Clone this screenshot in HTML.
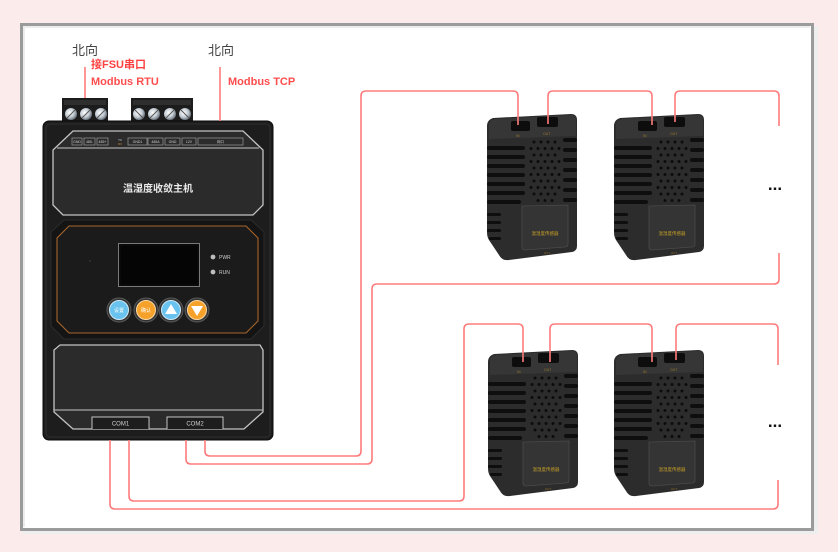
<!DOCTYPE html>
<html><head><meta charset="utf-8"><style>
html,body{margin:0;padding:0;background:#fcebeb;}
svg{display:block;}
text{font-family:"Liberation Sans","Noto Sans CJK SC",sans-serif;}
</style></head><body>
<svg width="838" height="552" viewBox="0 0 838 552" xmlns="http://www.w3.org/2000/svg">
<defs>
 <radialGradient id="screw" cx="40%" cy="40%" r="60%">
  <stop offset="0" stop-color="#ffffff"/><stop offset="0.6" stop-color="#c4ccd4"/><stop offset="1" stop-color="#6d7680"/>
 </radialGradient>
 <g id="sensor">
  <path d="M0,14 Q0,8 6,6 L84,2 Q90,2 90,8 L90,134 Q90,139 85,140 L22,148 Q15,149 12,143 L2,128 Q0,125 0,120 Z" fill="#2c2c2c"/>
  <path d="M2,12 Q3,8 8,7 L84,3 Q89,3 89,8 L89,24 L2,27 Z" fill="#363636"/>
  <rect x="24" y="9" width="19" height="10" rx="2" fill="#0d0d0d"/>
  <rect x="50" y="5" width="21" height="10" rx="2" fill="#0d0d0d"/>
  <text x="29" y="25" font-size="3.5" fill="#9a7a2a">IN</text>
  <text x="56" y="23" font-size="3.5" fill="#9a7a2a">OUT</text>
  <g fill="#0e0e0e">
   <rect x="0" y="34" width="38" height="4" rx="2"/>
   <rect x="0" y="43" width="38" height="4" rx="2"/>
   <rect x="0" y="52" width="38" height="4" rx="2"/>
   <rect x="0" y="61" width="38" height="4" rx="2"/>
   <rect x="0" y="70" width="38" height="4" rx="2"/>
   <rect x="0" y="79" width="38" height="4" rx="2"/>
   <rect x="0" y="88" width="34" height="4" rx="2"/>
   <rect x="0" y="101" width="14" height="3" rx="1.5"/>
   <rect x="0" y="109" width="14" height="3" rx="1.5"/>
   <rect x="0" y="117" width="14" height="3" rx="1.5"/>
   <rect x="2" y="125" width="12" height="3" rx="1.5"/>
   <rect x="76" y="26" width="14" height="4" rx="2"/>
   <rect x="76" y="36" width="14" height="4" rx="2"/>
   <rect x="76" y="46" width="14" height="4" rx="2"/>
   <rect x="76" y="56" width="14" height="4" rx="2"/>
   <rect x="76" y="66" width="14" height="4" rx="2"/>
   <rect x="76" y="76" width="14" height="4" rx="2"/>
   <rect x="76" y="86" width="14" height="4" rx="2"/>
  </g>
  <g fill="#0c0c0c">
   <circle cx="47" cy="30" r="1.5"/><circle cx="54" cy="30" r="1.5"/><circle cx="61" cy="30" r="1.5"/><circle cx="68" cy="30" r="1.5"/>
   <circle cx="44" cy="36.5" r="1.5"/><circle cx="51" cy="36.5" r="1.5"/><circle cx="58" cy="36.5" r="1.5"/><circle cx="65" cy="36.5" r="1.5"/><circle cx="72" cy="36.5" r="1.5"/>
   <circle cx="47" cy="43" r="1.5"/><circle cx="54" cy="43" r="1.5"/><circle cx="61" cy="43" r="1.5"/><circle cx="68" cy="43" r="1.5"/>
   <circle cx="44" cy="49.5" r="1.5"/><circle cx="51" cy="49.5" r="1.5"/><circle cx="58" cy="49.5" r="1.5"/><circle cx="65" cy="49.5" r="1.5"/><circle cx="72" cy="49.5" r="1.5"/>
   <circle cx="47" cy="56" r="1.5"/><circle cx="54" cy="56" r="1.5"/><circle cx="61" cy="56" r="1.5"/><circle cx="68" cy="56" r="1.5"/>
   <circle cx="44" cy="62.5" r="1.5"/><circle cx="51" cy="62.5" r="1.5"/><circle cx="58" cy="62.5" r="1.5"/><circle cx="65" cy="62.5" r="1.5"/><circle cx="72" cy="62.5" r="1.5"/>
   <circle cx="47" cy="69" r="1.5"/><circle cx="54" cy="69" r="1.5"/><circle cx="61" cy="69" r="1.5"/><circle cx="68" cy="69" r="1.5"/>
   <circle cx="44" cy="75.5" r="1.5"/><circle cx="51" cy="75.5" r="1.5"/><circle cx="58" cy="75.5" r="1.5"/><circle cx="65" cy="75.5" r="1.5"/><circle cx="72" cy="75.5" r="1.5"/>
   <circle cx="47" cy="82" r="1.5"/><circle cx="54" cy="82" r="1.5"/><circle cx="61" cy="82" r="1.5"/><circle cx="68" cy="82" r="1.5"/>
   <circle cx="51" cy="88.5" r="1.5"/><circle cx="58" cy="88.5" r="1.5"/><circle cx="65" cy="88.5" r="1.5"/>
  </g>
  <path d="M35,94 L81,93 L81,132 Q81,135 78,135 L38,138 Q35,138 35,135 Z" fill="#343434" stroke="#4a4a4a" stroke-width="0.8"/>
  <text x="58" y="123" font-size="4.5" fill="#c9a227" text-anchor="middle">温湿度传感器</text>
  <text x="60" y="142" font-size="3" fill="#8a6a2a" text-anchor="middle">OUT</text>
 </g>
</defs>

<!-- frame -->
<rect x="814" y="26" width="4" height="506" fill="#eeeeee"/>
<rect x="22" y="531" width="796" height="3" fill="#eeeeee"/>
<rect x="21.5" y="24.5" width="791" height="505" fill="#ffffff" stroke="#9b9b9b" stroke-width="3"/>
<path d="M24,527 V27 H810" fill="none" stroke="#ececec" stroke-width="2"/>

<!-- labels -->
<text x="72" y="55" font-size="13" fill="#444">北向</text>
<text x="208" y="55" font-size="13" fill="#444">北向</text>
<text x="91" y="68" font-size="11" font-weight="bold" fill="#ff4040">接FSU串口</text>
<text x="91" y="85" font-size="11" font-weight="bold" fill="#ff4d4d">Modbus RTU</text>
<text x="228" y="85" font-size="11" font-weight="bold" fill="#ff4d4d">Modbus TCP</text>

<!-- terminal blocks -->
<rect x="62" y="98" width="46" height="24" fill="#1c1c1c"/>
<rect x="64" y="100" width="42" height="5" fill="#2e2e2e"/>
<circle cx="71" cy="114" r="6" fill="url(#screw)"/>
<circle cx="86" cy="114" r="6" fill="url(#screw)"/>
<circle cx="101" cy="114" r="6" fill="url(#screw)"/>
<rect x="131" y="98" width="62" height="24" fill="#1c1c1c"/>
<rect x="133" y="100" width="58" height="5" fill="#2e2e2e"/>
<circle cx="139" cy="114" r="6" fill="url(#screw)"/>
<circle cx="154" cy="114" r="6" fill="url(#screw)"/>
<circle cx="170" cy="114" r="6" fill="url(#screw)"/>
<circle cx="185" cy="114" r="6" fill="url(#screw)"/>
<g stroke="#555" stroke-width="1">
 <line x1="67" y1="118" x2="75" y2="110"/><line x1="82" y1="118" x2="90" y2="110"/><line x1="97" y1="118" x2="105" y2="110"/>
 <line x1="135" y1="110" x2="143" y2="118"/><line x1="150" y1="118" x2="158" y2="110"/><line x1="166" y1="118" x2="174" y2="110"/><line x1="181" y1="110" x2="189" y2="118"/>
</g>

<!-- main device body -->
<rect x="43" y="121" width="230" height="319" rx="6" fill="#1d1d1d" stroke="#0a0a0a" stroke-width="1"/>
<rect x="46" y="124" width="224" height="313" rx="4" fill="none" stroke="#2e2e2e" stroke-width="1"/>
<!-- top panel -->
<polygon points="73,131 243,131 263,150 263,205 253,215 63,215 53,205 53,150" fill="#2b2b2b" stroke="#c4c4c4" stroke-width="1.3"/>
<line x1="57" y1="148" x2="259" y2="148" stroke="#c4c4c4" stroke-width="1"/>
<g fill="none" stroke="#9a9a9a" stroke-width="0.7">
 <rect x="72" y="138" width="10" height="7"/><rect x="84" y="138" width="11" height="7"/><rect x="97" y="138" width="11" height="7"/>
 <rect x="128" y="138" width="19" height="7"/><rect x="148" y="138" width="15" height="7"/><rect x="165" y="138" width="15" height="7"/><rect x="182" y="138" width="14" height="7"/><rect x="198" y="138" width="45" height="7"/>
</g>
<g font-size="3.5" fill="#cfcfcf" text-anchor="middle">
 <text x="77" y="143">GND</text><text x="89.5" y="143">485-</text><text x="102.5" y="143">485+</text>
 <text x="120" y="141" font-size="3">TX</text><text x="120" y="145" font-size="3" fill="#c08a30">RX</text>
 <text x="137.5" y="143">GND1</text><text x="155.5" y="143">485A</text><text x="172.5" y="143">GND</text><text x="189" y="143">12V</text><text x="220.5" y="143">网口</text>
</g>
<text x="158" y="192" font-size="10" font-weight="bold" fill="#e8e8e8" text-anchor="middle">温湿度收敛主机</text>

<!-- middle panel -->
<polygon points="64,220 251,220 264,232 264,326 251,339 64,339 51,326 51,232" fill="#141414" stroke="#2c2c2c" stroke-width="1"/>
<polygon points="69,226 246,226 258,238 258,321 246,333 69,333 57,321 57,238" fill="#1b1b1b" stroke="#a8642a" stroke-width="1.1"/>
<rect x="118.5" y="243.5" width="81" height="43" fill="#0a0a0a" stroke="#7a7a7a" stroke-width="1"/>
<rect x="121" y="246" width="76" height="38" fill="#050505"/>
<circle cx="90" cy="261" r="0.8" fill="#444"/>
<circle cx="213" cy="257" r="2.4" fill="#bdbdbd"/>
<circle cx="213" cy="272" r="2.4" fill="#bdbdbd"/>
<text x="219" y="259" font-size="5" fill="#cfcfcf">PWR</text>
<text x="219" y="274" font-size="5" fill="#cfcfcf">RUN</text>
<!-- buttons -->
<g stroke="#5a5a5a" stroke-width="1">
 <circle cx="119" cy="310" r="12" fill="#333"/>
 <circle cx="146" cy="310" r="12" fill="#333"/>
 <circle cx="171" cy="310" r="12" fill="#333"/>
 <circle cx="197" cy="310" r="12" fill="#333"/>
</g>
<circle cx="119" cy="310" r="9.5" fill="#69c3ee" stroke="#cfeaf8" stroke-width="1"/>
<circle cx="146" cy="310" r="9.5" fill="#f6a22a" stroke="#fbd9a6" stroke-width="1"/>
<circle cx="171" cy="310" r="9.5" fill="#69c3ee" stroke="#cfeaf8" stroke-width="1"/>
<circle cx="197" cy="310" r="9.5" fill="#f6a22a" stroke="#fbd9a6" stroke-width="1"/>
<text x="119" y="312" font-size="5" fill="#fff" text-anchor="middle">设置</text>
<text x="146" y="312" font-size="5" fill="#fff" text-anchor="middle">确认</text>
<polygon points="171,304 177,314 165,314" fill="#fff"/>
<polygon points="191,306 203,306 197,316" fill="#fff"/>

<!-- bottom panel -->
<polygon points="60,345 260,345 263,350 263,412 244,429 73,429 54,412 54,350" fill="#2b2b2b" stroke="#c4c4c4" stroke-width="1.3"/>
<line x1="54" y1="410" x2="263" y2="410" stroke="#c4c4c4" stroke-width="1"/>
<path d="M92,429 V417 H149 V429" fill="#1d1d1d" stroke="#c4c4c4" stroke-width="1"/>
<path d="M167,429 V417 H223 V429" fill="#1d1d1d" stroke="#c4c4c4" stroke-width="1"/>
<text x="120.5" y="425.5" font-size="6" fill="#cfcfcf" text-anchor="middle">COM1</text>
<text x="195" y="425.5" font-size="6" fill="#cfcfcf" text-anchor="middle">COM2</text>

<!-- sensors -->
<use href="#sensor" x="487" y="112"/>
<use href="#sensor" x="614" y="112"/>
<use href="#sensor" x="488" y="348"/>
<use href="#sensor" x="614" y="348"/>

<!-- red connectors -->
<g fill="none" stroke="#ff7b7b" stroke-width="1.6">
 <path d="M85,67 V98"/>
 <path d="M220,67 V121"/>
 <path d="M205,440 V451 Q205,456 210,456 H356 Q361,456 361,451 V96 Q361,91 366,91 H513 Q518,91 518,96 V125"/>
 <path d="M548,124 V96 Q548,91 553,91 H647 Q652,91 652,96 V125"/>
 <path d="M675,122 V96 Q675,91 680,91 H774 Q779,91 779,96 V126"/>
 <path d="M779,253 V279 Q779,284 774,284 H377 Q372,284 372,289 V459 Q372,464 367,464 H191 Q186,464 186,459 V440"/>
 <path d="M129,440 V496 Q129,501 134,501 H459 Q464,501 464,496 V329 Q464,324 469,324 H518 Q523,324 523,329 V362"/>
 <path d="M550,362 V329 Q550,324 555,324 H647 Q652,324 652,329 V362"/>
 <path d="M676,360 V329 Q676,324 681,324 H773 Q778,324 778,329 V365"/>
 <path d="M778,480 V504 Q778,509 773,509 H115 Q110,509 110,504 V440"/>
</g>

<text x="775" y="190" font-size="17" font-weight="bold" fill="#111" text-anchor="middle">...</text>
<text x="775" y="427" font-size="17" font-weight="bold" fill="#111" text-anchor="middle">...</text>
</svg>
</body></html>
